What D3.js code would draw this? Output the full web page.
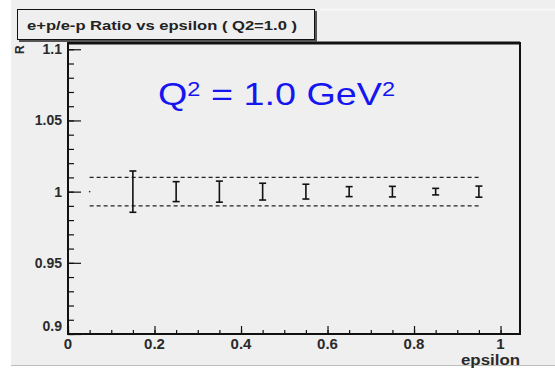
<!DOCTYPE html>
<html>
<head>
<meta charset="utf-8">
<script src="https://cdn.jsdelivr.net/npm/d3@7"></script>
<style>
  body { margin: 0; background: #ffffff; }
  svg text { font-family: "Liberation Sans", Arial, sans-serif; }
</style>
</head>
<body>
<svg width="555" height="368"></svg>
<script>
// data
const epsilon = [0.05, 0.15, 0.25, 0.35, 0.45, 0.55, 0.65, 0.75, 0.85, 0.95];
const ratio = [1.0, 1.0, 1.0, 1.0, 1.0, 1.0, 1.0, 1.0, 1.0, 1.0];
const ratioErr = [0, 0.0145, 0.007, 0.0074, 0.0059, 0.0052, 0.0035, 0.0037, 0.0023, 0.0039];
const bandLevels = [0.99, 1.01];
const bandRange = [0.05, 0.95];
const xTicks = [0, 0.2, 0.4, 0.6, 0.8, 1];
const yTicks = [0.9, 0.95, 1, 1.05, 1.1];

const svg = d3.select('svg');

// page background
svg.append('rect').attr('x', 0).attr('y', 0).attr('width', 555).attr('height', 368).attr('fill', '#ffffff');
svg.append('rect').attr('x', 11).attr('y', 0).attr('width', 544).attr('height', 365).attr('fill', '#efefef');
svg.append('line').attr('x1', 11).attr('x2', 555).attr('y1', 365.5).attr('y2', 365.5)
    .attr('stroke', '#bdbdbd').attr('stroke-width', 1);
svg.append('line').attr('x1', 320).attr('x2', 555).attr('y1', 9.5).attr('y2', 9.5)
    .attr('stroke', '#f8f8f8').attr('stroke-width', 2);

const x = d3.scaleLinear().domain([0, 1.045]).range([68, 520]);
const y = d3.scaleLinear().domain([0.9, 1.1044]).range([334, 43]);

// frame
svg.append('rect')
    .attr('x', x(0)).attr('y', y(1.1044))
    .attr('width', x(1.045) - x(0)).attr('height', y(0.9) - y(1.1044))
    .attr('fill', '#efefef')
    .attr('stroke', '#111').attr('stroke-width', 2);
svg.append('line').attr('x1', x(0)).attr('x2', x(1.045)).attr('y1', y(1.1044)).attr('y2', y(1.1044))
    .attr('stroke', '#111').attr('stroke-width', 3);

// x axis ticks (drawn upward)
const xAxis = d3.axisTop(x).tickValues(xTicks).tickSize(8).tickFormat('');
const xMinor = d3.axisTop(x).tickValues(d3.range(0, 21).map(i => i * 0.05)).tickSize(4).tickFormat('');
[xAxis, xMinor].forEach(ax => {
    const g = svg.append('g').attr('transform', `translate(0,${y(0.9)})`).call(ax);
    g.select('.domain').remove();
    g.selectAll('line').attr('stroke', '#111').attr('stroke-width', 1.2);
});

// y axis ticks (drawn rightward)
const yAxis = d3.axisRight(y).tickValues(yTicks).tickSize(13).tickFormat('');
const yMinor = d3.axisRight(y).tickValues(d3.range(0, 21).map(i => 0.9 + i * 0.01)).tickSize(6).tickFormat('');
[yAxis, yMinor].forEach(ax => {
    const g = svg.append('g').attr('transform', `translate(${x(0)},0)`).call(ax);
    g.select('.domain').remove();
    g.selectAll('line').attr('stroke', '#111').attr('stroke-width', 1.2);
});

// tick labels
svg.append('g').selectAll('text')
    .data(xTicks)
    .enter()
    .append('text')
    .attr('x', d => x(d))
    .attr('y', 349)
    .attr('text-anchor', 'middle')
    .style('font-size', '15px')
    .style('font-weight', 'bold')
    .attr('fill', '#2a2a2a')
    .text(d => d3.format('~g')(d));

svg.append('g').selectAll('text')
    .data(yTicks)
    .enter()
    .append('text')
    .attr('x', 62)
    .attr('y', d => d === 0.9 ? y(d) - 3 : y(d) + 5)
    .attr('text-anchor', 'end')
    .style('font-size', '14px')
    .style('font-weight', 'bold')
    .attr('fill', '#2a2a2a')
    .text(d => d3.format('~g')(d));

// axis titles
svg.append('text')
    .attr('x', 520).attr('y', 365)
    .attr('text-anchor', 'end')
    .attr('textLength', 59).attr('lengthAdjust', 'spacingAndGlyphs')
    .style('font-size', '14px').style('font-weight', 'bold')
    .attr('fill', '#2a2a2a')
    .text('epsilon');

svg.append('text')
    .attr('transform', 'translate(24,54) rotate(-90)')
    .style('font-size', '12px').style('font-weight', 'bold')
    .attr('fill', '#2a2a2a')
    .text('R');

// band lines
svg.append('g').selectAll('line')
    .data(bandLevels)
    .enter()
    .append('line')
    .attr('x1', x(bandRange[0])).attr('x2', x(bandRange[1]))
    .attr('y1', d => y(d)).attr('y2', d => y(d))
    .attr('stroke', '#222').attr('stroke-width', 1.3)
    .attr('stroke-dasharray', '4,3');

// error bars
const pts = epsilon.map((e, i) => ({ e: e, r: ratio[i], s: ratioErr[i] }));
const bars = svg.append('g').selectAll('g')
    .data(pts)
    .enter()
    .append('g');

bars.filter(d => d.s > 0).append('line')
    .attr('x1', d => x(d.e)).attr('x2', d => x(d.e))
    .attr('y1', d => y(d.r - d.s)).attr('y2', d => y(d.r + d.s))
    .attr('stroke', '#111').attr('stroke-width', 1.6);

[-1, 1].forEach(sign => {
    bars.filter(d => d.s > 0).append('line')
        .attr('x1', d => x(d.e) - 3.5).attr('x2', d => x(d.e) + 3.5)
        .attr('y1', d => y(d.r + sign * d.s)).attr('y2', d => y(d.r + sign * d.s))
        .attr('stroke', '#111').attr('stroke-width', 1.6);
});

bars.filter(d => d.s === 0).append('circle')
    .attr('cx', d => x(d.e)).attr('cy', d => y(d.r))
    .attr('r', 0.8)
    .attr('fill', '#333');

// title box
svg.append('rect').attr('x', 19).attr('y', 11).attr('width', 298).attr('height', 31).attr('fill', '#555');
svg.append('rect').attr('x', 17.5).attr('y', 9.5).attr('width', 297).attr('height', 30)
    .attr('fill', '#efefef').attr('stroke', '#111').attr('stroke-width', 1);
svg.append('text')
    .attr('x', 27).attr('y', 30)
    .attr('textLength', 270).attr('lengthAdjust', 'spacingAndGlyphs')
    .style('font-size', '13px').style('font-weight', 'bold')
    .attr('fill', '#222')
    .text('e+p/e-p Ratio vs epsilon ( Q2=1.0 )');

// annotation
const ann = svg.append('text')
    .attr('transform', 'translate(158,105) scale(1.18,1)')
    .style('font-size', '32px')
    .attr('fill', '#1515f0');
ann.append('tspan').text('Q');
ann.append('tspan').attr('dy', -9).style('font-size', '20px').text('2');
ann.append('tspan').attr('dy', 9).text('\u00a0= 1.0 GeV');
ann.append('tspan').attr('dy', -9).style('font-size', '20px').text('2');
</script>
</body>
</html>
